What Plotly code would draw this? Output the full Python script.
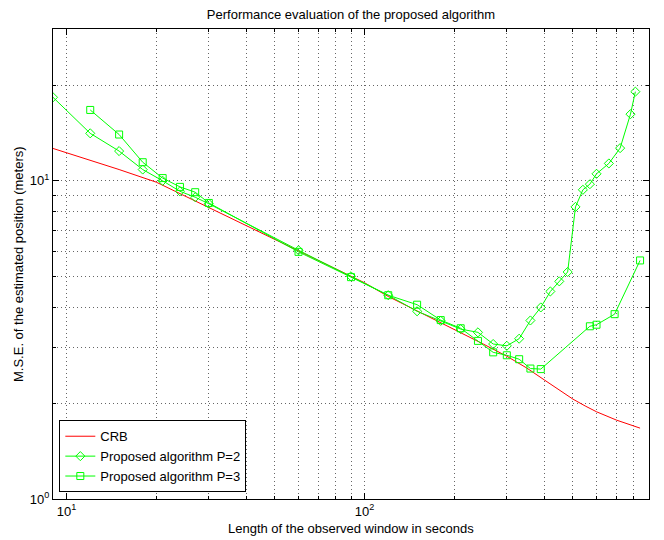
import numpy as np
import plotly.graph_objects as go

# ---- data ----
crb_x = [9, 10, 12, 15, 20, 25, 30, 40, 50, 60, 80, 100, 120, 150, 200, 250, 300,
         350, 400, 450, 500, 550, 600, 700, 840]
crb_y = [12.64, 12.25, 11.6, 10.85, 9.9, 8.95, 8.26, 7.25, 6.55, 6.05, 5.3, 4.78, 4.33,
         3.9, 3.42, 3.07, 2.81, 2.58, 2.37, 2.2, 2.06, 1.96, 1.88, 1.77, 1.67]

p2_x = [9, 12, 15, 18, 21, 24, 27, 30, 60, 90, 120, 150, 180, 210, 240, 270, 300, 330,
        360, 390, 420, 450, 480, 510, 540, 570, 600, 660, 720, 780, 810]
p2_y = [18.3, 14.1, 12.4, 10.85, 10.0, 9.27, 8.88, 8.47, 6.05, 5.01, 4.37, 3.89, 3.63,
        3.42, 3.34, 3.07, 3.03, 3.19, 3.64, 4.0, 4.49, 4.83, 5.17, 8.28, 9.37, 9.76,
        10.52, 11.34, 12.67, 16.2, 19.06]

p3_x = [12, 15, 18, 21, 24, 27, 30, 60, 90, 120, 150, 180, 210, 240, 270, 300, 330,
        360, 390, 570, 600, 690, 840]
p3_y = [16.7, 13.98, 11.44, 10.2, 9.57, 9.21, 8.52, 5.98, 4.98, 4.37, 4.08, 3.65, 3.44,
        3.14, 2.89, 2.83, 2.75, 2.57, 2.56, 3.49, 3.53, 3.81, 5.62]

x_major = [10, 100]
x_major_text = ["10<sup>1</sup>", "10<sup>2</sup>"]
x_minor = [20, 30, 40, 50, 60, 70, 80, 90, 200, 300, 400, 500, 600, 700, 800]
y_major = [1, 10]
y_major_text = ["10<sup>0</sup>", "10<sup>1</sup>"]
y_minor = [2, 3, 4, 5, 6, 7, 8, 9, 20]

TITLE = "Performance evaluation of the proposed algorithm"
XLABEL = "Length of the observed window in seconds"
YLABEL = "M.S.E. of the estimated position (meters)"

GREEN = "#00ff00"
RED = "#ff0000"
FONT = "Liberation Sans, Arial, sans-serif"
GRID = "#666666"
GRIDDASH = "1px,3px"

fig = go.Figure()
fig.add_trace(go.Scatter(x=crb_x, y=crb_y, mode="lines", name="CRB",
                         line=dict(color=RED, width=1)))
fig.add_trace(go.Scatter(x=p2_x, y=p2_y, mode="lines+markers",
                         name="Proposed algorithm P=2",
                         line=dict(color=GREEN, width=1),
                         marker=dict(symbol="diamond-open", size=7,
                                     color=GREEN, line=dict(width=1, color=GREEN))))
fig.add_trace(go.Scatter(x=p3_x, y=p3_y, mode="lines+markers",
                         name="Proposed algorithm P=3",
                         line=dict(color=GREEN, width=1),
                         marker=dict(symbol="square-open", size=7,
                                     color=GREEN, line=dict(width=1, color=GREEN))))

axis_common = dict(
    type="log", showline=True, linecolor="black", linewidth=1, mirror="allticks",
    ticks="inside", ticklen=6, tickcolor="black", tickwidth=1,
    showgrid=True, gridcolor=GRID, griddash=GRIDDASH, gridwidth=1,
    zeroline=False, automargin=False,
    tickfont=dict(size=13, color="black", family=FONT),
)

fig.update_xaxes(
    range=[np.log10(9), np.log10(900)],
    tickmode="array", tickvals=x_major, ticktext=x_major_text,
    minor=dict(tickvals=x_minor, ticks="inside", ticklen=3, tickcolor="black",
               showgrid=True, gridcolor=GRID, griddash=GRIDDASH, gridwidth=1),
    **axis_common,
)
fig.update_yaxes(
    range=[0, np.log10(30)],
    tickmode="array", tickvals=y_major, ticktext=y_major_text,
    minor=dict(tickvals=y_minor, ticks="inside", ticklen=3, tickcolor="black",
               showgrid=True, gridcolor=GRID, griddash=GRIDDASH, gridwidth=1),
    **axis_common,
)

fig.update_layout(
    width=664, height=540,
    margin=dict(l=53, r=15, t=29, b=41, pad=0),
    paper_bgcolor="white", plot_bgcolor="white",
    font=dict(family=FONT, size=13, color="black"),
    title=dict(text=TITLE,
               x=351 / 664, xanchor="center", xref="container",
               y=1 - 14 / 540, yanchor="middle", yref="container",
               font=dict(size=13, color="black", family=FONT)),
    legend=dict(x=0.0106, y=0.0143, xanchor="left", yanchor="bottom",
                bgcolor="white", bordercolor="black", borderwidth=1,
                font=dict(size=13, color="black", family=FONT),
                tracegroupgap=0, itemwidth=30),
    showlegend=True,
    annotations=[
        dict(text=XLABEL, xref="paper", yref="paper", x=0.5, y=-(528 - 499) / 470,
             xanchor="center", yanchor="middle", showarrow=False,
             font=dict(size=13, color="black", family=FONT)),
        dict(text=YLABEL, xref="paper", yref="paper", x=-(53 - 18) / 596, y=0.5,
             xanchor="center", yanchor="middle", textangle=-90, showarrow=False,
             font=dict(size=13, color="black", family=FONT)),
    ],
)

fig.write_html(
    "out.html",
    config={"displayModeBar": False},
    post_script="document.body.style.margin='0';document.body.style.overflow='hidden';",
)
